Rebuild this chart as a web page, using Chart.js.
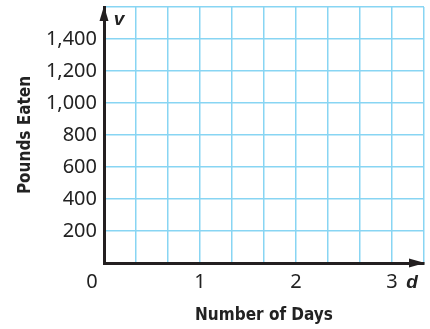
<!DOCTYPE html>
<html>
<head>
<meta charset="utf-8">
<script src="https://cdn.jsdelivr.net/npm/chart.js@4"></script>
<style>
  body { margin: 0; background: #fff; }
  canvas { display: block; }
</style>
</head>
<body>
<canvas id="myChart" width="430" height="329"></canvas>
<script>
// empty graph paper: days along the bottom, pounds up the side
const days = [];
const poundsEaten = [];

// grid every third of a day, labels on whole days
const dayGrid = [0, 1/3, 2/3, 1, 4/3, 5/3, 2, 7/3, 8/3, 3, 10/3];
const dayLabels = ['0', '1', '2', '3'];
const poundTicks = [0, 200, 400, 600, 800, 1000, 1200, 1400, 1600];
const poundLabels = ['', '200', '400', '600', '800', '1,000', '1,200', '1,400', ''];

const gridBlue = '#88d5f3';
const axisDark = '#231f20';
const tickFont = { family: 'Noto Sans', size: 20 };
const titleFont = { family: '"DejaVu Sans Condensed", "Liberation Sans"', size: 17, weight: 'bold' };

const canvas = document.querySelector('#myChart').getContext('2d');

// arrowheads, the origin label and the axis letters
const axisExtras = {
    id: 'axisExtras',
    afterDraw(chart) {
        const ctx = chart.ctx;
        const area = chart.chartArea;
        ctx.save();
        ctx.fillStyle = axisDark;
        // up arrow on the pounds axis
        ctx.beginPath();
        ctx.moveTo(area.left, area.top - 1);
        ctx.lineTo(area.left - 4.5, area.top + 14);
        ctx.lineTo(area.left + 4.5, area.top + 14);
        ctx.closePath();
        ctx.fill();
        // right arrow on the days axis
        ctx.beginPath();
        ctx.moveTo(area.right + 1, area.bottom);
        ctx.lineTo(area.right - 15, area.bottom - 4.5);
        ctx.lineTo(area.right - 15, area.bottom + 4.5);
        ctx.closePath();
        ctx.fill();

        ctx.fillStyle = '#222';
        ctx.font = '20px "Noto Sans"';
        ctx.textAlign = 'center';
        ctx.textBaseline = 'middle';
        ctx.fillText(dayLabels[0], area.left - 12, area.bottom + 19);

        ctx.font = 'italic bold 19px "Liberation Sans"';
        ctx.textBaseline = 'alphabetic';
        ctx.fillText('v', area.left + 15, area.top + 18);
        ctx.fillText('d', area.right - 12, area.bottom + 25);
        ctx.restore();
    }
};

const chart = new Chart(canvas, {
    type: 'scatter',
    data: {
        datasets: [{
            label: 'Pounds Eaten',
            data: days.map((d, i) => ({ x: d, y: poundsEaten[i] })),
            backgroundColor: axisDark
        }]
    },
    options: {
        responsive: false,
        animation: false,
        devicePixelRatio: 1,
        layout: { padding: { top: 7, right: 6, left: 0, bottom: 0 } },
        plugins: {
            legend: { display: false },
            tooltip: { enabled: false }
        },
        scales: {
            x: {
                type: 'linear',
                min: 0,
                max: dayGrid[dayGrid.length - 1],
                afterBuildTicks: scale => {
                    scale.ticks = dayGrid.map(v => ({ value: v }));
                },
                afterFit: scale => {
                    scale.height = 66;
                    scale.paddingLeft = 0;
                    scale.paddingRight = 0;
                },
                grid: { color: gridBlue, lineWidth: 1.5, drawTicks: false },
                border: { color: axisDark, width: 3 },
                ticks: {
                    padding: 7,
                    color: '#222',
                    font: tickFont,
                    maxRotation: 0,
                    autoSkip: false,
                    callback: value => {
                        const whole = Math.round(value);
                        if (whole === 0 || Math.abs(value - whole) > 1e-6) return '';
                        return dayLabels[whole];
                    }
                },
                title: {
                    display: true,
                    text: 'Number of Days',
                    color: '#222',
                    font: titleFont,
                    padding: { top: 0, bottom: 3 }
                }
            },
            y: {
                min: poundTicks[0],
                max: poundTicks[poundTicks.length - 1],
                afterBuildTicks: scale => {
                    scale.ticks = poundTicks.map(v => ({ value: v }));
                },
                afterFit: scale => {
                    scale.width = 104;
                    scale.paddingTop = 0;
                    scale.paddingBottom = 0;
                },
                grid: { color: gridBlue, lineWidth: 1.5, drawTicks: false },
                border: { color: axisDark, width: 3 },
                ticks: {
                    padding: 7,
                    color: '#222',
                    font: tickFont,
                    autoSkip: false,
                    callback: value => poundLabels[poundTicks.indexOf(value)]
                },
                title: {
                    display: true,
                    text: 'Pounds Eaten',
                    color: '#222',
                    font: titleFont,
                    padding: { top: 15, bottom: 0 }
                }
            }
        }
    },
    plugins: [axisExtras]
});
</script>
</body>
</html>
